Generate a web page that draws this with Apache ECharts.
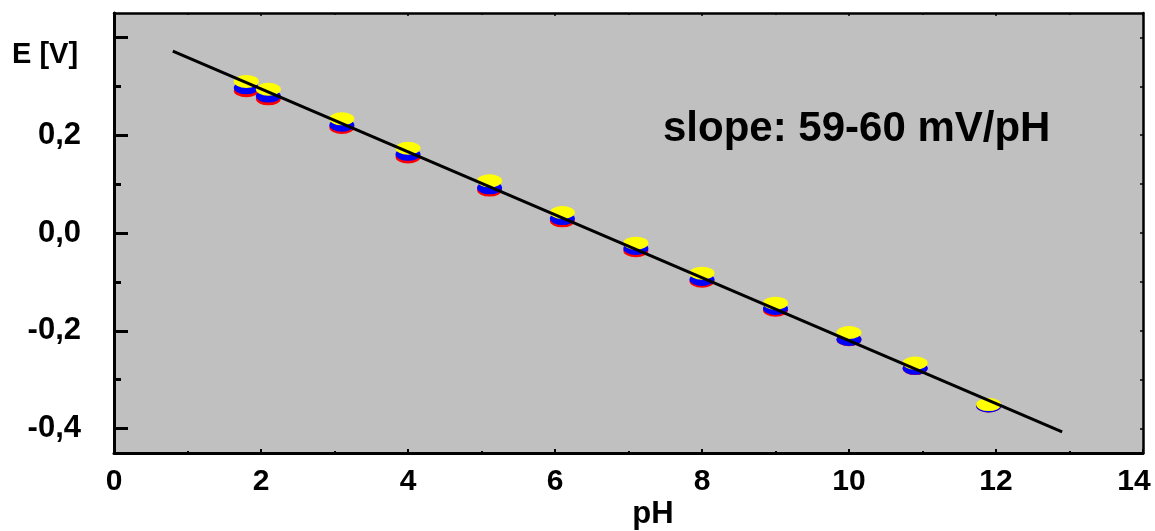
<!DOCTYPE html>
<html><head><meta charset="utf-8">
<script src="https://cdn.jsdelivr.net/npm/echarts@6/dist/echarts.min.js"></script>
<style>html,body{margin:0;padding:0;background:#fff}#c{width:1155px;height:531px}</style>
</head><body><div id="c"></div>
<script>
// ---- data ----
const phValues = [1.80, 2.10, 3.10, 4.00, 5.11, 6.10, 7.10, 8.00, 9.00, 10.00, 10.90, 11.90];
const eYellow  = [0.310, 0.294, 0.2335, 0.1734, 0.1067, 0.0419, -0.0208, -0.0822, -0.1436, -0.2035, -0.266, -0.351];
const eBlue    = [0.297, 0.280, 0.2206, 0.161, 0.0924, 0.0296, -0.0316, -0.0951, -0.1544, -0.2178, -0.2768, -0.3537];
const eRed     = [0.291, 0.2745, 0.216, 0.1555, 0.0877, 0.0249, -0.0363, -0.0986, -0.1579, -0.2184, -0.2774, -0.3537];
const fitPh = [0.8, 12.9];
const fitE  = [0.372, -0.407];
const yMajorTicks = [-0.4, -0.2, 0, 0.2, 0.4];
const yLabelValues = [-0.4, -0.2, 0, 0.2];
const yMinorTicks = [-0.3, -0.1, 0.1, 0.3];
const yRightTicks = [-0.4, -0.3, -0.2, -0.1, 0, 0.1, 0.2, 0.3, 0.4];
const yAxisTitle = 'E [V]';
const xAxisTitle = 'pH';
const annotation = 'slope: 59-60 mV/pH';

const FONT = '"Liberation Sans", Arial, sans-serif';
const chart = echarts.init(document.getElementById('c'), null, {renderer: 'canvas'});
const lbl = (size) => ({fontSize: size, fontWeight: 'bold', color: '#000', fontFamily: FONT});
const commaFmt = v => Number(v).toFixed(1).replace('.', ',');
const xFmt = v => (v === 14 ? '{m|' + v + '}' : String(v));

const scatter = (name, arr, color) => ({
  name, type: 'scatter', xAxisIndex: 0, yAxisIndex: 0,
  data: phValues.map((x, i) => [x, arr[i]]),
  symbol: 'circle', symbolSize: [25, 13],
  itemStyle: {color, opacity: 1}, z: 2, silent: true
});

chart.setOption({
  animation: false,
  backgroundColor: '#ffffff',
  grid: {left: 114, right: 12, top: 13, bottom: 78, show: true, backgroundColor: '#c0c0c0', borderWidth: 0,
         containLabel: false, outerBoundsMode: 'none'},
  xAxis: [
    {type: 'value', position: 'bottom', min: 0, max: 14, interval: 2,
     axisLine: {show: true, onZero: false, lineStyle: {color: '#000', width: 3}},
     axisTick: {show: true, inside: true, length: 4, lineStyle: {color: '#000', width: 2}},
     minorTick: {show: true, splitNumber: 2, length: 2, lineStyle: {color: '#000', width: 2}},
     axisLabel: Object.assign({margin: 14, formatter: xFmt,
       rich: {m: Object.assign({padding: [0, 18, 0, 0]}, lbl(30))}}, lbl(30)),
     splitLine: {show: false}, minorSplitLine: {show: false}},
    {type: 'value', position: 'top', min: 0, max: 14, interval: 2,
     axisLine: {show: true, onZero: false, lineStyle: {color: '#000', width: 2.5}},
     axisTick: {show: true, inside: true, length: 3, lineStyle: {color: '#000', width: 1.5}},
     minorTick: {show: true, splitNumber: 2, length: 2, lineStyle: {color: '#000', width: 1.5}},
     axisLabel: {show: false}, splitLine: {show: false}}
  ],
  yAxis: [
    {type: 'value', position: 'left', min: -0.45, max: 0.45,
     axisLine: {show: true, onZero: false, lineStyle: {color: '#000', width: 3}},
     axisTick: {show: true, inside: true, length: 14, customValues: yMajorTicks, lineStyle: {color: '#000', width: 3}},
     axisLabel: Object.assign({margin: 33, customValues: yLabelValues, formatter: commaFmt}, lbl(31)),
     splitLine: {show: false}},
    {type: 'value', position: 'left', offset: 0, min: -0.45, max: 0.45,
     axisLine: {show: false},
     axisTick: {show: true, inside: true, length: 7, customValues: yMinorTicks, lineStyle: {color: '#000', width: 3}},
     axisLabel: {show: false}, splitLine: {show: false}},
    {type: 'value', position: 'right', min: -0.45, max: 0.45,
     axisLine: {show: true, onZero: false, lineStyle: {color: '#000', width: 2.5}},
     axisTick: {show: true, inside: true, length: 3, customValues: yRightTicks, lineStyle: {color: '#000', width: 1.5}},
     axisLabel: {show: false}, splitLine: {show: false}}
  ],
  series: [
    scatter('red', eRed, '#ff0000'),
    scatter('blue', eBlue, '#0000ff'),
    scatter('yellow', eYellow, '#ffff00'),
    {name: 'fit', type: 'line', xAxisIndex: 0, yAxisIndex: 0,
     data: fitPh.map((x, i) => [x, fitE[i]]),
     symbol: 'none', lineStyle: {color: '#000', width: 3}, z: 5, silent: true}
  ],
  graphic: [
    {type: 'text', left: 12, top: 40, style: Object.assign({text: yAxisTitle}, lbl(29))},
    {type: 'text', x: 653, y: 514, style: Object.assign({text: xAxisTitle, align: 'center', verticalAlign: 'middle'}, lbl(31))},
    {type: 'text', x: 663, y: 129, style: Object.assign({text: annotation, align: 'left', verticalAlign: 'middle'}, lbl(42))}
  ]
});
</script></body></html>
